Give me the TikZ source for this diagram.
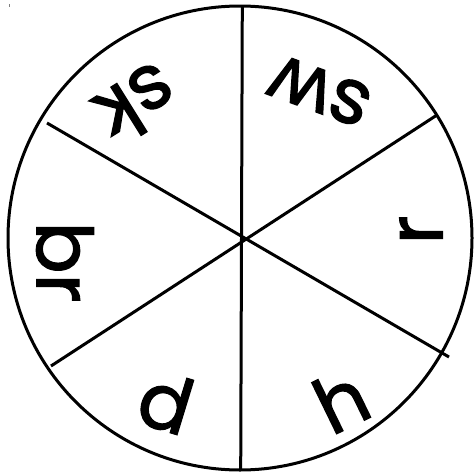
\documentclass[tikz,border=0pt]{standalone}
\usepackage{fontspec}
\setmainfont{Poppins}
\newfontfamily\spinfont{Poppins}[FakeBold=1.6]
\begin{document}
\begin{tikzpicture}[x=1pt,y=-1pt,
  rim/.style={line width=3pt,draw=black},
  spoke/.style={line width=3pt,draw=black},
  lbl/.style={inner sep=0pt,font=\spinfont\fontsize{77}{80}\selectfont}]
\useasboundingbox (0,0) rectangle (474,474);
\fill[white] (0,0) rectangle (474,474);
\coordinate (c) at (240,238);
\draw[rim] (c) circle[radius=232];
\coordinate (t) at (242.3,6);
\coordinate (b) at (240.7,470);
\coordinate (ur) at (437,115);
\coordinate (lr) at (449,357);
\coordinate (ul) at (47,123);
\coordinate (ll) at (51,366);
\draw[spoke] (t) -- (b);
\draw[spoke] (ur) -- (ll);
\draw[spoke] (ul) -- (lr);
\node[lbl,rotate=212] (sk) at (137,104) {sk};
\node[lbl,rotate=160] (sw) at (320,91) {sw};
\node[lbl,rotate=90] (r) at (421,230) {r};
\node[lbl,rotate=-90] (br) at (65,262) {br};
\node[lbl,rotate=-17] (d) at (166,402) {d};
\node[lbl,rotate=26] (h) at (341,400) {h};
\coordinate (m1) at (9,4);
\coordinate (m2) at (9,7);
\draw[gray,line width=0.8pt] (m1) -- (m2);
\end{tikzpicture}
\end{document}
